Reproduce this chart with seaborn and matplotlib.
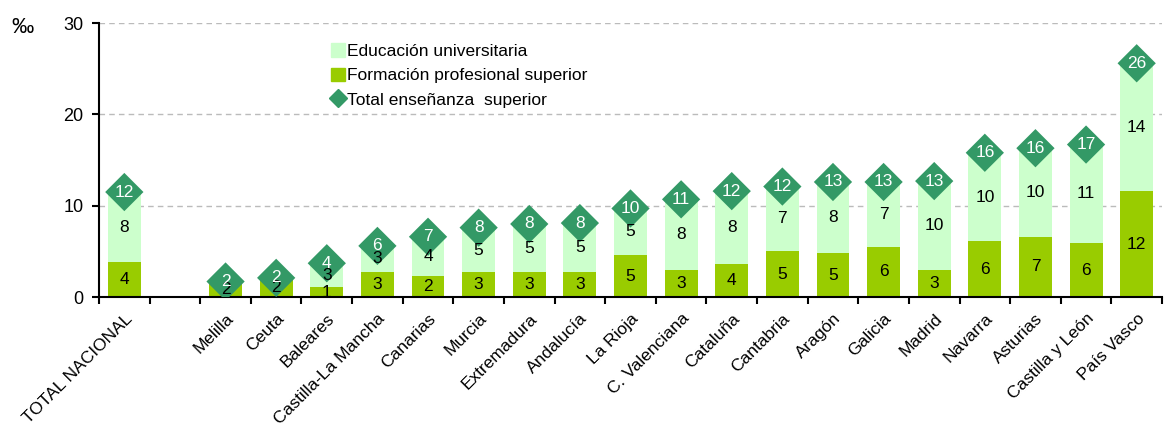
import numpy as np
import pandas as pd
import seaborn as sns
import matplotlib.pyplot as plt
from matplotlib.lines import Line2D
from matplotlib.patches import Patch

regions = ['TOTAL NACIONAL', '', 'Melilla', 'Ceuta', 'Baleares', 'Castilla-La Mancha',
           'Canarias', 'Murcia', 'Extremadura', 'Andalucía', 'La Rioja', 'C. Valenciana',
           'Cataluña', 'Cantabria', 'Aragón', 'Galicia', 'Madrid', 'Navarra', 'Asturias',
           'Castilla y León', 'País Vasco']
fp_sup = [3.8, np.nan, 1.7, 2.1, 1.1, 2.75, 2.3, 2.7, 2.7, 2.7, 4.6, 3.0, 3.6, 5.0, 4.8,
          5.5, 3.0, 6.1, 6.6, 5.9, 11.6]
univ = [7.7, np.nan, 0.0, 0.0, 2.6, 2.85, 4.3, 4.9, 5.3, 5.4, 5.1, 7.7, 8.0, 7.1, 7.8,
        7.1, 9.7, 9.7, 9.7, 10.8, 14.0]

c_uni = '#CCFFCC'
c_fp = '#99CC00'
c_tot = '#339966'

df = pd.DataFrame({'region': regions, 'fp': fp_sup, 'uni': univ})
df['total'] = df['fp'] + df['uni']

plt.rcParams['font.family'] = ['Liberation Sans', 'DejaVu Sans']
fig = plt.figure(figsize=(11.69, 4.28), dpi=100)
ax = fig.add_axes([0.0847, 0.306, 0.9093, 0.64])

sns.barplot(data=df, x='region', y='total', order=regions, color=c_uni, width=0.65,
            saturation=1, ax=ax, linewidth=0)
sns.barplot(data=df, x='region', y='fp', order=regions, color=c_fp, width=0.65,
            saturation=1, ax=ax, linewidth=0)
tot = df.dropna()
sns.scatterplot(data=tot, x='region', y='total', marker='D', s=380, color=c_tot,
                edgecolor='none', ax=ax, zorder=5)

fs = 12.5
for i, r in df.iterrows():
    if np.isnan(r['fp']):
        continue
    ax.text(i, r['fp'] / 2, f"{r['fp']:.0f}", ha='center', va='center', fontsize=fs,
            color='black', zorder=6)
    if r['uni'] > 0:
        ax.text(i, r['fp'] + r['uni'] / 2, f"{r['uni']:.0f}", ha='center', va='center',
                fontsize=fs, color='black', zorder=6)
    ax.text(i, r['total'], f"{r['total']:.0f}", ha='center', va='center', fontsize=fs,
            color='white', zorder=7)

ax.set_ylim(0, 30)
ax.set_xlim(-0.5, len(regions) - 0.5)
ax.set_yticks([0, 10, 20, 30])
ax.yaxis.grid(True, color='#BBBBBB', linestyle=(0, (4, 3)), linewidth=1)
ax.set_axisbelow(True)
ax.set_xlabel('')
ax.set_ylabel('')
for s in ['top', 'right']:
    ax.spines[s].set_visible(False)
for s in ['left', 'bottom']:
    ax.spines[s].set_linewidth(1.5)
    ax.spines[s].set_color('black')

ax.set_xticks(range(len(regions)))
ax.set_xticklabels(regions, rotation=45, ha='right', rotation_mode='anchor', fontsize=fs)
ax.tick_params(axis='x', which='major', length=0, pad=10)
ax.set_xticks(np.arange(-0.5, len(regions), 1), minor=True)
ax.tick_params(axis='x', which='minor', length=5, width=1.5, direction='out')
ax.tick_params(axis='y', length=5, width=1.5, labelsize=13, pad=6)

fig.text(0.010, 0.935, '‰', fontsize=16, ha='left', va='center')

handles = [Patch(color=c_uni), Patch(color=c_fp),
           Line2D([], [], marker='D', color=c_tot, linestyle='none', markersize=9)]
labels = ['Educación universitaria', 'Formación profesional superior', 'Total enseñanza  superior']
ax.legend(handles, labels, loc='upper left', bbox_to_anchor=(0.277, 0.915),
          bbox_transform=fig.transFigure, frameon=False, fontsize=fs,
          handlelength=0.8, handleheight=0.8, handletextpad=0.15, labelspacing=0.5,
          borderaxespad=0)

fig.savefig('out.png', dpi=100)
